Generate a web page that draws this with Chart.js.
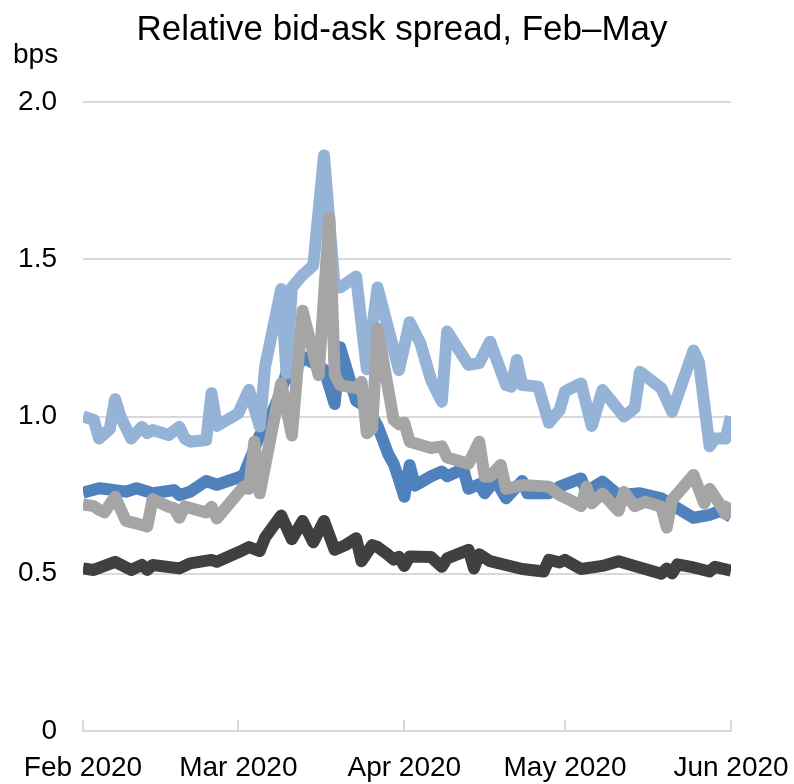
<!DOCTYPE html>
<html>
<head>
<meta charset="utf-8">
<script src="https://cdn.jsdelivr.net/npm/chart.js@4.4.1/dist/chart.umd.min.js"></script>
<style>
  html, body { margin: 0; padding: 0; background: #ffffff; }
  #wrap { width: 794px; height: 784px; }
</style>
</head>
<body>
<div id="wrap"><canvas id="chart" width="794" height="784"></canvas></div>
<script>
// ---- text ----
const chartTitle = 'Relative bid-ask spread, Feb–May';
const unitLabel = 'bps';

// ---- axes ----
const axisStart = '2020-02-01';
const axisEnd = '2020-06-01';
const monthTickDates = ['2020-02-01', '2020-03-01', '2020-04-01', '2020-05-01', '2020-06-01'];
const monthTickLabels = ['Feb 2020', 'Mar 2020', 'Apr 2020', 'May 2020', 'Jun 2020'];
const yTickValues = [0, 0.5, 1.0, 1.5, 2.0];
const yTickLabels = ['0', '0.5', '1.0', '1.5', '2.0'];

// ---- series (bps) ----
const lightBlueDates = ['02-01','02-03','02-04','02-06','02-07','02-08','02-10','02-12','02-13','02-14',
  '02-17','02-19','02-20','02-21','02-24','02-25','02-26','03-01','03-03','03-05',
  '03-06','03-09','03-10','03-11','03-13','03-15','03-17','03-19','03-20','03-23',
  '03-24','03-25','03-27','03-31','04-02','04-04','04-06','04-08','04-09','04-13',
  '04-15','04-17','04-20','04-21','04-22','04-23','04-26','04-28','04-30','05-01',
  '05-04','05-06','05-08','05-12','05-14','05-15','05-19','05-21','05-25','05-26',
  '05-28','05-29','05-31','06-01'];
const lightBlueValues = [1.00, 0.99, 0.93, 0.96, 1.055, 1.00, 0.93, 0.967, 0.947, 0.957,
  0.941, 0.967, 0.93, 0.92, 0.925, 1.074, 0.97, 1.01, 1.085, 0.968,
  1.158, 1.405, 1.137, 1.41, 1.45, 1.48, 1.83, 1.41, 1.41, 1.445,
  1.296, 1.15, 1.41, 1.148, 1.30, 1.233, 1.116, 1.047, 1.27, 1.164,
  1.17, 1.238, 1.10, 1.095, 1.18, 1.10, 1.095, 0.98, 1.02, 1.08,
  1.105, 0.97, 1.084, 1.00, 1.026, 1.142, 1.09, 1.015, 1.21, 1.174,
  0.905, 0.93, 0.93, 1.00];

const midBlueDates = ['02-01','02-04','02-06','02-09','02-11','02-14','02-18','02-19','02-21','02-24',
  '02-26','03-01','03-02','03-03','03-05','03-07','03-09','03-10','03-11','03-13',
  '03-15','03-17','03-19','03-20','03-23','03-25','03-27','03-29','03-30','03-31',
  '04-01','04-02','04-03','04-04','04-06','04-08','04-09','04-12','04-13','04-15',
  '04-16','04-18','04-20','04-23','04-24','04-28','04-30','05-04','05-05','05-08',
  '05-11','05-15','05-19','05-21','05-25','05-28','05-30','06-01'];
const midBlueValues = [0.758, 0.772, 0.768, 0.761, 0.772, 0.756, 0.766, 0.75, 0.761, 0.795,
  0.783, 0.806, 0.814, 0.856, 0.94, 1.00, 1.08, 1.14, 1.12, 1.19,
  1.17, 1.15, 1.04, 1.22, 1.05, 1.03, 0.97, 0.88, 0.85, 0.80,
  0.745, 0.845, 0.78, 0.79, 0.81, 0.825, 0.81, 0.833, 0.77, 0.785,
  0.756, 0.798, 0.74, 0.795, 0.756, 0.756, 0.777, 0.803, 0.761, 0.793,
  0.75, 0.756, 0.74, 0.719, 0.678, 0.687, 0.70, 0.681];

const greyDates = ['02-01','02-03','02-04','02-05','02-07','02-09','02-11','02-13','02-14','02-17',
  '02-18','02-19','02-20','02-24','02-25','02-26','03-02','03-03','03-04','03-05',
  '03-09','03-11','03-13','03-16','03-18','03-19','03-20','03-23','03-24','03-25',
  '03-26','03-27','03-30','03-31','04-01','04-02','04-03','04-06','04-08','04-09',
  '04-13','04-15','04-16','04-17','04-19','04-20','04-23','04-28','04-30','05-02',
  '05-04','05-05','05-06','05-08','05-11','05-12','05-14','05-16','05-19','05-20',
  '05-21','05-25','05-27','05-28','05-30','05-31','06-01'];
const greyValues = [0.72, 0.715, 0.703, 0.695, 0.745, 0.668, 0.66, 0.65, 0.737, 0.713,
  0.708, 0.678, 0.714, 0.695, 0.713, 0.676, 0.777, 0.77, 0.92, 0.756,
  1.105, 0.94, 1.336, 1.132, 1.632, 1.132, 1.10, 1.09, 1.11, 0.947,
  0.962, 1.28, 0.99, 0.975, 0.98, 0.92, 0.915, 0.90, 0.905, 0.87,
  0.85, 0.92, 0.809, 0.809, 0.846, 0.77, 0.782, 0.777, 0.75, 0.734,
  0.715, 0.777, 0.724, 0.755, 0.70, 0.76, 0.715, 0.729, 0.713, 0.647,
  0.735, 0.814, 0.724, 0.77, 0.719, 0.69, 0.725];

const darkDates = ['02-01','02-03','02-07','02-10','02-12','02-13','02-14','02-19','02-21','02-25',
  '02-26','03-01','03-03','03-05','03-06','03-09','03-11','03-13','03-15','03-17',
  '03-19','03-21','03-23','03-24','03-26','03-27','03-29','03-30','03-31','04-01',
  '04-02','04-06','04-08','04-09','04-13','04-14','04-15','04-17','04-23','04-27',
  '04-28','04-30','05-01','05-04','05-08','05-11','05-14','05-19','05-20','05-21',
  '05-22','05-25','05-28','05-29','06-01'];
const darkValues = [0.517, 0.512, 0.538, 0.512, 0.528, 0.512, 0.528, 0.517, 0.533, 0.544,
  0.538, 0.568, 0.585, 0.572, 0.615, 0.685, 0.61, 0.668, 0.60, 0.668,
  0.576, 0.591, 0.613, 0.54, 0.591, 0.585, 0.56, 0.545, 0.554, 0.525,
  0.555, 0.553, 0.522, 0.549, 0.576, 0.517, 0.562, 0.54, 0.515, 0.507,
  0.544, 0.536, 0.544, 0.515, 0.525, 0.54, 0.525, 0.50, 0.517, 0.501,
  0.53, 0.52, 0.507, 0.522, 0.51];

// ---- helpers ----
const DAY = 86400000;
const originMs = Date.parse(axisStart);
const dayIndex = iso => Math.round((Date.parse(iso) - originMs) / DAY);
const toPoints = (dates, values) =>
  dates.map((d, i) => ({ x: dayIndex('2020-' + d), y: values[i] }));

const tickDays = monthTickDates.map(dayIndex);
const FONT = '"Liberation Sans", Arial, Helvetica, sans-serif';
const GRID = '#d9d9d9';

const headingPlugin = {
  id: 'heading',
  afterDraw(chart) {
    const ctx = chart.ctx;
    ctx.save();
    ctx.fillStyle = '#000000';
    ctx.textBaseline = 'alphabetic';
    ctx.font = '35px ' + FONT;
    ctx.textAlign = 'center';
    ctx.fillText(chartTitle, 402, 40);
    ctx.font = '28px ' + FONT;
    ctx.textAlign = 'left';
    ctx.fillText(unitLabel, 13, 63);
    ctx.restore();
  }
};

const lineStyle = color => ({
  borderColor: color,
  backgroundColor: color,
  borderWidth: 12,
  pointRadius: 0,
  pointHoverRadius: 0,
  tension: 0,
  fill: false,
  borderJoinStyle: 'round',
  borderCapStyle: 'butt'
});

new Chart(document.getElementById('chart'), {
  type: 'line',
  data: {
    datasets: [
      { label: 'Series 4', data: toPoints(darkDates, darkValues), ...lineStyle('#404040') },
      { label: 'Series 3', data: toPoints(greyDates, greyValues), ...lineStyle('#a5a5a5') },
      { label: 'Series 1', data: toPoints(lightBlueDates, lightBlueValues), ...lineStyle('#95b3d7') },
      { label: 'Series 2', data: toPoints(midBlueDates, midBlueValues), ...lineStyle('#4f81bd') }
    ]
  },
  options: {
    responsive: false,
    devicePixelRatio: 1,
    animation: false,
    events: [],
    layout: { padding: { top: 102, right: 63, bottom: 0, left: 0 } },
    plugins: {
      legend: { display: false },
      title: { display: false },
      tooltip: { enabled: false }
    },
    scales: {
      x: {
        type: 'linear',
        min: dayIndex(axisStart),
        max: dayIndex(axisEnd),
        afterBuildTicks: scale => { scale.ticks = tickDays.map(v => ({ value: v })); },
        afterFit: scale => { scale.height = 53; scale.paddingLeft = 0; scale.paddingRight = 0; },
        ticks: {
          autoSkip: false,
          maxRotation: 0,
          padding: 31,
          color: '#000000',
          font: { family: FONT, size: 28 },
          callback: (v) => monthTickLabels[tickDays.indexOf(v)]
        },
        grid: {
          drawOnChartArea: false,
          drawTicks: true,
          tickLength: -11,
          color: GRID,
          lineWidth: 2
        },
        border: { display: true, color: GRID, width: 2 }
      },
      y: {
        min: 0,
        max: 2,
        afterBuildTicks: scale => { scale.ticks = yTickValues.map(v => ({ value: v })); },
        afterFit: scale => { scale.width = 83; scale.paddingTop = 0; scale.paddingBottom = 0; },
        ticks: {
          padding: 26,
          color: '#000000',
          font: { family: FONT, size: 28 },
          callback: (v) => yTickLabels[yTickValues.indexOf(v)]
        },
        grid: {
          drawTicks: false,
          color: ctx => (ctx.tick && ctx.tick.value === 0 ? 'rgba(0,0,0,0)' : GRID),
          lineWidth: 2
        },
        border: { display: false }
      }
    }
  },
  plugins: [headingPlugin]
});
</script>
</body>
</html>
